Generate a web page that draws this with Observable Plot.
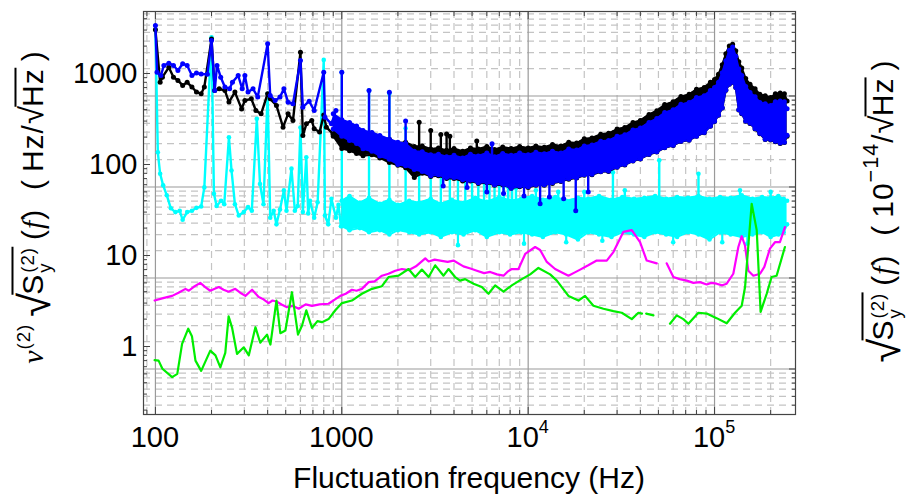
<!DOCTYPE html>
<html><head><meta charset="utf-8">
<script src="https://cdn.jsdelivr.net/npm/d3@7"></script>
<script src="https://cdn.jsdelivr.net/npm/@observablehq/plot@0.6"></script>
<style>
body{margin:0;background:#fff;}
#wrap{position:relative;width:910px;height:496px;font-family:"Liberation Sans",Arial,sans-serif;overflow:hidden;}
.rot{position:absolute;transform:translate(-50%,-50%) rotate(-90deg);white-space:nowrap;font-size:30px;letter-spacing:1px;line-height:1;color:#000;}
.sq{font-size:1.45em;vertical-align:-0.14em;line-height:0.5;}
.sq2{font-size:1.1em;line-height:0.5;}
.rad{display:inline-block;border-top:2px solid #000;padding-top:5px;line-height:1;margin-left:-3px;}
.rad2{display:inline-block;border-top:2px solid #000;padding-top:2px;line-height:1;margin-left:-2px;}
.ss{display:inline-block;vertical-align:-0.45em;font-size:0.62em;line-height:0.95;margin-left:1px;}
.ss span{display:block;}
.it{font-family:"Liberation Serif","Times New Roman",serif;font-style:italic;}
.sup{font-size:0.62em;vertical-align:0.75em;line-height:0.5;}
.sup2{font-size:0.72em;vertical-align:0.7em;line-height:0.5;}
</style></head><body><div id="wrap"></div>
<script>
// ---------- axis ticks ----------
const xMajor = [100, 1000, 10000, 100000];
const xMinor = [90, 200,300,400,500,600,700,800,900, 2000,3000,4000,5000,6000,7000,8000,9000, 20000,30000,40000,50000,60000,70000,80000,90000, 200000];
const xTickLabels = [["100",""],["1000",""],["10","4"],["10","5"]];
const yLeftMajor = [1, 10, 100, 1000];
const yLeftMinor = [0.2,0.3,0.4,0.5,0.6,0.7,0.8,0.9, 2,3,4,5,6,7,8,9, 20,30,40,50,60,70,80,90, 200,300,400,500,600,700,800,900, 2000,3000,4000];
const yRightMajor = [0.1, 1, 10, 100];
const yRightMinor = [0.04,0.05,0.06,0.07,0.08,0.09, 0.2,0.3,0.4,0.5,0.6,0.7,0.8,0.9, 2,3,4,5,6,7,8,9, 20,30,40,50,60,70,80,90, 200,300,400,500,600,700,800];
const rightFactor = 5.66; // left-axis value per right-axis unit
const xDomain = [86.3, 271900];
const yDomain = [0.179, 4800];

// ---------- low-frequency series (frequency Hz, value) ----------
const blackLow = [[100,3020],[106,800],[109,910],[118,1170],[125,910],[132,840],[140,740],[148,800],[157,710],[166,625],[176,600],[183,710],[200,2400],[208,650],[220,680],[236,650],[248,485],[267,625],[290,408],[302,505],[327,527],[346,392],[369,360],[400,600],[413,527],[446,445],[484,257],[515,360],[547,304],[600,1715],[618,208],[646,280],[690,304],[711,247],[760,227],[800,350],[826,257],[896,217],[955,227]];
const blueLow = [[100,3370],[102,1030],[107,950],[111,1225],[118,1300],[125,1225],[132,1080],[140,1280],[148,1225],[157,950],[166,1010],[176,985],[190,980],[200,2300],[208,650],[214,1225],[224,910],[236,710],[250,680],[259,800],[278,950],[292,680],[302,950],[314,625],[334,680],[354,550],[400,2120],[413,573],[439,505],[466,550],[489,680],[515,484],[547,465],[600,1390],[618,427],[668,497],[711,392],[800,1030],[812,331],[880,280],[930,392]];
const cyanLow = [[100,3020],[103,136],[106,79],[110,59],[115,46],[121,33],[128,30],[135,31],[140,24.7],[148,30],[157,31],[166,33.4],[176,34.5],[183,56],[200,2500],[206,47.6],[213,35],[225,40],[234,36.6],[248,199],[256,86],[267,36.6],[280,27.5],[298,30],[314,34],[329,31],[350,318],[364,61],[380,36.6],[400,600],[413,26],[431,31],[446,22],[466,32],[489,52],[505,31],[537,90],[560,31],[580,35],[600,255],[618,30],[645,120],[660,29],[675,40],[711,26],[742,38.5],[800,1410],[812,27.5],[846,22],[880,42],[930,26],[960,36],[990,21],[1030,33]];

// ---------- dense black / blue band (envelopes) ----------
const bandF = [900,1000,1100,1200,1300,1450,1600,1800,2000,2200,2450,2700,3000,3300,3650,4000,4450,4900,5400,6000,6600,7300,8100,9000,10000,11000,12200,13500,15000,16500,18200,20000,22000,24500,27000,30000,33000,36500,40000,44500,49000,54000,60000,66000,73000,80000,88000,95000,100000,105000,110000,115000,120000,125000,130000,135000,140000,147000,155000,165000,175000,187000,200000,212000,225000,237000,245000];
const blackHi = [290,285,262,255,232,222,198,190,172,176,158,160,148,152,143,150,140,152,148,158,146,156,150,158,152,160,155,166,160,176,172,192,196,215,220,245,255,290,305,355,390,455,490,560,590,670,700,800,860,980,1250,1650,2000,2100,1780,1350,1150,880,760,680,590,570,545,600,610,600,500];
const blackLo = [205,150,142,132,125,128,118,105,98,92,72,80,74,75,70,70,66,66,62,63,59,60,55,57,56,59,59,62,65,69,71,76,77,83,84,93,99,109,115,129,137,153,162,179,185,204,224,264,297,348,418,655,760,800,700,398,362,298,283,246,218,188,186,178,170,174,205];
const blueHi = [360,310,290,265,237,225,208,190,176,170,140,138,128,130,122,126,118,130,124,134,122,132,126,134,128,136,131,140,134,148,144,160,164,180,183,204,212,240,252,290,320,372,400,458,480,545,570,650,700,800,1020,1380,1800,1950,1550,1120,950,720,620,555,480,465,445,490,500,490,410];
const blueLo = [246,205,184,170,149,140,124,114,100,97,88,84,75,77,72,72,68,67,63,64,60,61,55,58,57,60,60,63,66,70,72,77,78,84,85,94,100,110,116,130,138,154,163,180,186,205,225,265,298,350,420,660,765,805,705,400,365,300,285,248,220,190,188,180,172,176,210];
// spikes/dips: [frequency, from, to]
const blackSpikes = [[2600,150,292],[3000,140,237],[3400,140,214],[3650,140,217],[3800,135,205],[5300,140,181]];
const blueSpikes = [[1000,260,1035],[1400,200,650],[1800,170,624],[2200,150,300],[6400,120,169]];
const blueDips = [[3500,90,58],[4700,80,56],[6000,80,50],[7375,80,48],[9500,80,45],[11590,80,37],[13000,85,44],[15500,85,42],[18000,90,31],[21000,95,50]];

// ---------- cyan band ----------
const cyanF = [1000,1100,1250,1400,1600,1800,2000,2300,2600,3000,3400,3900,4500,5200,6000,7000,8000,9200,10500,12000,14000,16000,18500,21000,24000,28000,32000,37000,42000,48000,55000,63000,72000,82000,94000,107000,122000,140000,160000,180000,200000,220000,235000,245000];
const cyanHi = [40,45,38,43,37,41,36,40,38,42,37,41,38,43,39,44,40,42,45,41,44,40,43,42,45,41,44,42,43,45,42,44,43,45,42,44,43,46,42,44,43,45,42,40];
const cyanLo = [21,19,20,18,19,17,19,18,17,18,16,18,17,19,16,18,17,18,17,16,18,17,15,18,17,16,18,17,16,18,17,16,18,17,15,18,17,16,17,18,16,17,18,22];
const cyanSpikes = [[1000,35,1030],[1400,35,650],[1800,35,600],[2200,35,250],[2600,35,92],[3000,35,85],[3400,35,78],[3800,35,86],[4200,35,78],[4600,35,74],[5000,35,72],[5400,35,70],[5800,35,66],[6200,35,64],[6600,35,62],[7000,35,60],[7400,35,58],[7800,35,57],[8200,35,56],[8600,35,55],[11000,35,52],[14500,35,50],[20000,35,50],[28500,35,82],[33000,35,52],[50500,35,111],[82000,35,79],[137000,35,52],[200000,35,50]];
const cyanDips = [[4200,20,13],[9500,20,13.5],[16000,20,14],[25000,20,14.5],[60000,20,14],[110000,20,14],[150000,20,13.5]];

// ---------- smooth series ----------
const magentaLine = [[99,3.2],[110,3.4],[123,3.6],[133,3.9],[145,4.3],[151,4.1],[160,4.5],[174,5.0],[185,4.5],[197,4.1],[208,4.3],[219,4.5],[232,4.2],[247,4.0],[268,4.3],[285,3.9],[304,3.6],[330,4.2],[358,3.5],[380,3.3],[405,3.0],[425,3.2],[449,3.1],[475,2.9],[508,2.7],[545,2.8],[587,2.6],[640,2.9],[692,2.8],[760,2.9],[849,2.95],[920,3.3],[982,3.6],[1050,3.8],[1133,4.2],[1200,4.1],[1282,4.3],[1393,5.1],[1500,5.2],[1642,6.0],[1780,6.3],[1936,6.8],[2100,7.1],[2282,6.9],[2500,7.6],[2805,9.3],[2924,8.6],[3150,9.0],[3375,8.8],[3700,8.5],[3975,8.8],[4495,7.6],[4900,7.2],[5305,6.8],[5800,6.4],[6255,6.6],[6800,6.2],[7375,6.0],[7800,6.7],[8170,7.1],[8870,7.1],[9640,10.4],[10900,12.4],[11590,11.5],[12590,8.5],[13950,7.1],[15000,6.6],[16450,6.0],[17500,6.4],[19010,7.0],[21000,7.8],[23330,8.8],[26410,8.8],[28660,10.9],[32440,18.2],[35970,19],[39840,14],[43260,8.8],[48950,8.2],[52000,null],[55350,8.2],[60120,5.8],[65000,5.5],[70900,5.3],[77000,5.0],[83600,5.1],[90800,4.8],[96000,5.0],[102600,4.9],[110000,4.7],[116200,4.9],[126100,6.3],[134200,12.4],[139900,16.3],[145800,12.8],[151800,6.8],[161500,6.0],[175500,6.3],[185000,7.5],[198300,11.9],[211000,14],[224300,14],[238600,20.5]];
const greenLine = [[99,0.71],[104,0.70],[109,0.57],[123,0.46],[131,0.5],[139,1.07],[150,1.57],[157,1.3],[164,0.70],[176,0.54],[197,0.90],[210,0.8],[223,0.59],[237,0.85],[247,2.14],[258,1.6],[274,0.83],[298,0.98],[317,0.8],[344,1.63],[365,1.1],[397,1.35],[414,1.05],[446,3.2],[468,1.4],[498,1.5],[540,3.95],[582,1.35],[612,1.7],[645,2.5],[692,1.6],[740,1.9],[783,1.85],[849,2.0],[923,2.5],[1002,3.0],[1133,3.2],[1282,3.8],[1452,4.3],[1642,4.6],[1782,5.8],[2017,6.0],[2282,7.1],[2477,5.8],[2690,7.0],[2924,5.8],[3172,7.8],[3514,6.0],[3740,7.1],[4055,5.8],[4310,5.3],[4590,5.5],[5090,4.9],[5640,4.5],[6125,3.8],[6650,4.7],[7375,4.0],[8170,4.7],[9250,5.5],[10250,6.2],[11350,7.3],[13120,6.2],[14250,5.3],[16450,3.6],[18620,3.2],[20190,3.6],[22390,2.8],[25340,2.6],[28660,2.45],[31780,2.35],[35970,2.0],[39020,2.35],[40800,2.3],[41800,null],[43000,2.3],[47000,2.2],[49000,null],[57680,1.78],[62660,2.2],[68020,2.0],[72400,1.78],[81900,2.35],[90800,2.3],[102600,2.05],[116200,1.8],[128800,2.35],[139900,2.8],[145800,4.5],[158200,37],[168400,19],[176700,2.4],[190500,3.8],[202400,5.8],[215300,6.0],[238600,12.4]];

// ---------- build ----------
const F = d => d[0], V = d => d[1];
const idx = arr => d3.range(arr.length);
function band(fArr, lo, hi, color, r) {
  const I = idx(fArr);
  return [
    Plot.areaY(I, {x: i => fArr[i], y1: i => lo[i], y2: i => hi[i], fill: color}),
    Plot.line(I, {x: i => fArr[i], y: i => hi[i], stroke: color, strokeWidth: 2}),
    Plot.line(I, {x: i => fArr[i], y: i => lo[i], stroke: color, strokeWidth: 2}),
    Plot.dot(I, {x: i => fArr[i], y: i => hi[i], fill: color, r}),
    Plot.dot(I, {x: i => fArr[i], y: i => lo[i], fill: color, r})
  ];
}
function spikes(arr, color, r) {
  return [
    Plot.ruleX(arr, {x: d => d[0], y1: d => d[1], y2: d => d[2], stroke: color, strokeWidth: 2.4}),
    Plot.dot(arr, {x: d => d[0], y: d => d[2], fill: color, r})
  ];
}
function dotted(arr, color, r) {
  return [
    Plot.line(arr, {x: F, y: V, stroke: color, strokeWidth: 2.4}),
    Plot.dot(arr, {x: F, y: V, fill: color, r})
  ];
}
const gridDash = "#c4c4c4", gridMaj = "#9a9a9a", frameCol = "#444";
const font = "'Liberation Sans', Arial, sans-serif";
const noText = () => "";

const chart = Plot.plot({
  width: 910, height: 496,
  marginLeft: 143, marginRight: 115, marginTop: 11, marginBottom: 82,
  x: {type: "log", domain: xDomain, axis: null},
  y: {type: "log", domain: yDomain, axis: null},
  style: {fontFamily: font, background: "#fff", color: "#000"},
  marks: [
    Plot.ruleX(xMinor, {stroke: gridDash, strokeDasharray: "7 5", strokeWidth: 1.2}),
    Plot.ruleY(yRightMinor.map(d => d * rightFactor), {stroke: gridDash, strokeDasharray: "7 5", strokeWidth: 1.2}),
    Plot.ruleX(xMajor, {stroke: gridMaj, strokeWidth: 1.2}),
    Plot.ruleY(yRightMajor.map(d => d * rightFactor), {stroke: gridMaj, strokeWidth: 1.2}),
    // cyan
    ...band(cyanF, cyanLo, cyanHi, "#00ffff", 2.3),
    ...spikes(cyanSpikes, "#00ffff", 2.3),
    Plot.ruleX(cyanDips, {x: d => d[0], y1: d => d[1], y2: d => d[2], stroke: "#00ffff", strokeWidth: 2.2}),
    Plot.dot(cyanDips, {x: d => d[0], y: d => d[2], fill: "#00ffff", r: 2.3}),
    ...dotted(cyanLow, "#00ffff", 2.3),
    // black
    ...band(bandF, blackLo, blackHi, "#000000", 2.5),
    ...spikes(blackSpikes, "#000000", 2.5),
    ...dotted(blackLow, "#000000", 2.5),
    // blue
    ...band(bandF, blueLo, blueHi, "#0000ff", 2.5),
    ...spikes(blueSpikes, "#0000ff", 2.5),
    Plot.ruleX(blueDips, {x: d => d[0], y1: d => d[1], y2: d => d[2], stroke: "#0000ff", strokeWidth: 2.4}),
    Plot.dot(blueDips, {x: d => d[0], y: d => d[2], fill: "#0000ff", r: 2.5}),
    ...dotted(blueLow, "#0000ff", 2.5),
    // smooth
    Plot.line(magentaLine, {x: F, y: V, stroke: "#ff00ff", strokeWidth: 2.2}),
    Plot.line(greenLine, {x: F, y: V, stroke: "#00ee00", strokeWidth: 2.2}),
    // frame & inward ticks
    Plot.frame({stroke: frameCol, strokeWidth: 1.2}),
    Plot.axisX(xMajor, {anchor: "bottom", tickSize: -7, tickFormat: noText, stroke: frameCol}),
    Plot.axisX(xMinor, {anchor: "bottom", tickSize: -4, tickFormat: noText, stroke: frameCol}),
    Plot.axisX(xMajor, {anchor: "top", tickSize: -7, tickFormat: noText, stroke: frameCol}),
    Plot.axisX(xMinor, {anchor: "top", tickSize: -4, tickFormat: noText, stroke: frameCol}),
    Plot.axisY(yLeftMajor, {anchor: "left", tickSize: -7, tickFormat: noText, stroke: frameCol}),
    Plot.axisY(yLeftMinor, {anchor: "left", tickSize: -4, tickFormat: noText, stroke: frameCol}),
    Plot.axisY(yRightMajor.map(d => d * rightFactor), {anchor: "right", tickSize: -7, tickFormat: noText, stroke: frameCol}),
    Plot.axisY(yRightMinor.map(d => d * rightFactor), {anchor: "right", tickSize: -4, tickFormat: noText, stroke: frameCol}),
    // tick labels
    Plot.axisY(yLeftMajor, {anchor: "left", tickSize: 0, tickPadding: 6, fontSize: 29, tickFormat: d => String(d)}),
    Plot.axisY(yRightMajor.map(d => d * rightFactor), {anchor: "right", tickSize: 0, tickPadding: 7, fontSize: 29, tickFormat: d => String(+(d / rightFactor).toPrecision(4))})
  ]
});

const wrap = document.getElementById("wrap");
wrap.appendChild(chart);

// x tick labels with superscripts, placed through the x scale
const sx = chart.scale("x");
const svg = d3.select(chart);
const gx = svg.append("g").attr("font-family", font).attr("font-size", 29).attr("text-anchor", "middle").attr("fill", "#000");
xMajor.forEach((v, i) => {
  const [base, sup] = xTickLabels[i];
  const t = gx.append("text").attr("x", sx.apply(v)).attr("y", 447);
  t.append("tspan").text(base);
  if (sup) t.append("tspan").attr("dy", -14).attr("font-size", 18).text(sup);
});
svg.append("text").attr("x", 469).attr("y", 488).attr("text-anchor", "middle")
  .attr("font-family", font).attr("font-size", 30).attr("fill", "#000")
  .text("Fluctuation frequency (Hz)");

// rotated axis titles
const yl = document.createElement("div");
yl.className = "rot";
yl.style.left = "33px"; yl.style.top = "207px";
yl.innerHTML = '<span class="it">ν</span><span class="sup">(2)</span>&thinsp;<span class="sq">√</span><span class="rad">S<span class="ss"><span>(2)</span><span>y</span></span></span>&thinsp;(<span class="it">f</span>)&nbsp;&nbsp;(&thinsp;Hz/<span class="sq2">√</span><span class="rad2">Hz</span>&thinsp;)';
wrap.appendChild(yl);
const yr = document.createElement("div");
yr.className = "rot";
yr.style.left = "883px"; yr.style.top = "211px";
yr.innerHTML = '<span class="sq">√</span><span class="rad">S<span class="ss"><span>(2)</span><span>y</span></span></span>&thinsp;(<span class="it">f</span>)&nbsp;&nbsp;(&thinsp;10<span class="sup2">−14</span>/<span class="sq2">√</span><span class="rad2">Hz</span>&thinsp;)';
wrap.appendChild(yr);
</script></body></html>
